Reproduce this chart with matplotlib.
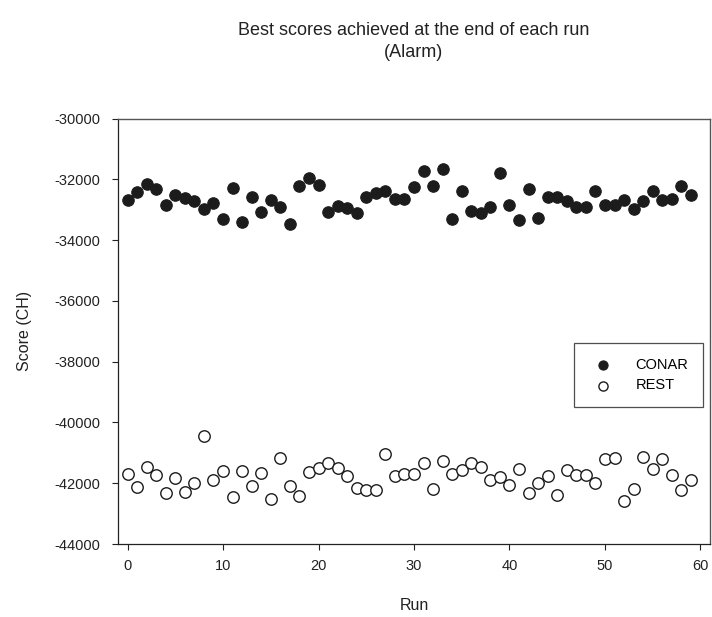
#!/usr/bin/env python3
"""Best scores achieved at the end of each run (Alarm): CONAR vs REST."""

import matplotlib
matplotlib.use("Agg")
import matplotlib.pyplot as plt
import numpy as np

plt.rcParams["font.family"] = ["Liberation Sans", "DejaVu Sans"]
plt.rcParams["axes.unicode_minus"] = False

# Scores, one per run (0..59)
runs = np.arange(60)
conar_scores = [
    -32680, -32427, -32164, -32307, -32843, -32515, -32624, -32712, -32975, -32767,
    -33314, -32274, -33391, -32591, -33062, -32679, -32920, -33467, -32219, -31945,
    -32186, -33073, -32876, -32953, -33117, -32580, -32449, -32383, -32646, -32640,
    -32241, -31737, -32219, -31672, -33314, -32394, -33029, -33095, -32898, -31792,
    -32832, -33347, -32318, -33281, -32591, -32569, -32723, -32898, -32920, -32394,
    -32854, -32854, -32679, -32964, -32701, -32372, -32690, -32657, -32219, -32526,
]
rest_scores = [
    -41703, -42121, -41473, -41736, -42330, -41813, -42275, -42000, -40451, -41890,
    -41604, -42462, -41604, -42077, -41649, -42517, -41176, -42088, -42418, -41626,
    -41495, -41319, -41495, -41758, -42154, -42231, -42209, -41022, -41769, -41686,
    -41703, -41341, -42198, -41264, -41703, -41550, -41330, -41462, -41879, -41802,
    -42055, -41528, -42330, -41989, -41758, -42374, -41561, -41714, -41714, -41978,
    -41209, -41176, -42583, -42198, -41121, -41528, -41187, -41714, -42220, -41890,
]
x_ticks = [0, 10, 20, 30, 40, 50, 60]
y_ticks = [-44000, -42000, -40000, -38000, -36000, -34000, -32000, -30000]


def main():
    fig = plt.figure(figsize=(7.12, 6.17), dpi=100)
    ax = fig.add_axes([0.1657, 0.1183, 0.8315, 0.6896])

    ax.scatter(runs, conar_scores, s=68, facecolor="#1c1c1c", edgecolor="#1c1c1c",
               linewidths=0.8, label="CONAR", zorder=3)
    ax.scatter(runs, rest_scores, s=68, facecolor="white", edgecolor="#1c1c1c",
               linewidths=1.0, label="REST", zorder=3)

    ax.set_xlim(-1, 61)
    ax.set_ylim(-44000, -30000)
    ax.set_xticks(x_ticks)
    ax.set_yticks(y_ticks)
    ax.tick_params(axis="both", direction="out", length=4.5, width=0.8,
                   labelsize=10.5, colors="#222222", pad=6)
    ax.tick_params(axis="y", pad=8)

    for side in ("left", "bottom"):
        ax.spines[side].set_color("#222222")
        ax.spines[side].set_linewidth(0.9)
    for side in ("top", "right"):
        ax.spines[side].set_color("#555555")
        ax.spines[side].set_linewidth(1.0)

    ax.set_xlabel("Run", fontsize=11.5, color="#222222", labelpad=18)
    ax.set_ylabel("Score (CH)", fontsize=11.5, color="#222222", labelpad=16)
    ax.set_title("Best scores achieved at the end of each run\n(Alarm)",
                 fontsize=13, color="#222222", pad=44, linespacing=1.45)

    leg = ax.legend(loc="center right", bbox_to_anchor=(0.988, 0.397),
                    borderaxespad=0, frameon=True, fancybox=False,
                    markerscale=0.8, fontsize=10.5, handletextpad=1.3,
                    borderpad=1.0, labelspacing=0.45, handlelength=1.9)
    leg.get_frame().set_edgecolor("#222222")
    leg.get_frame().set_linewidth(0.9)

    fig.savefig("out.png", dpi=100)
    plt.close(fig)


if __name__ == "__main__":
    main()
